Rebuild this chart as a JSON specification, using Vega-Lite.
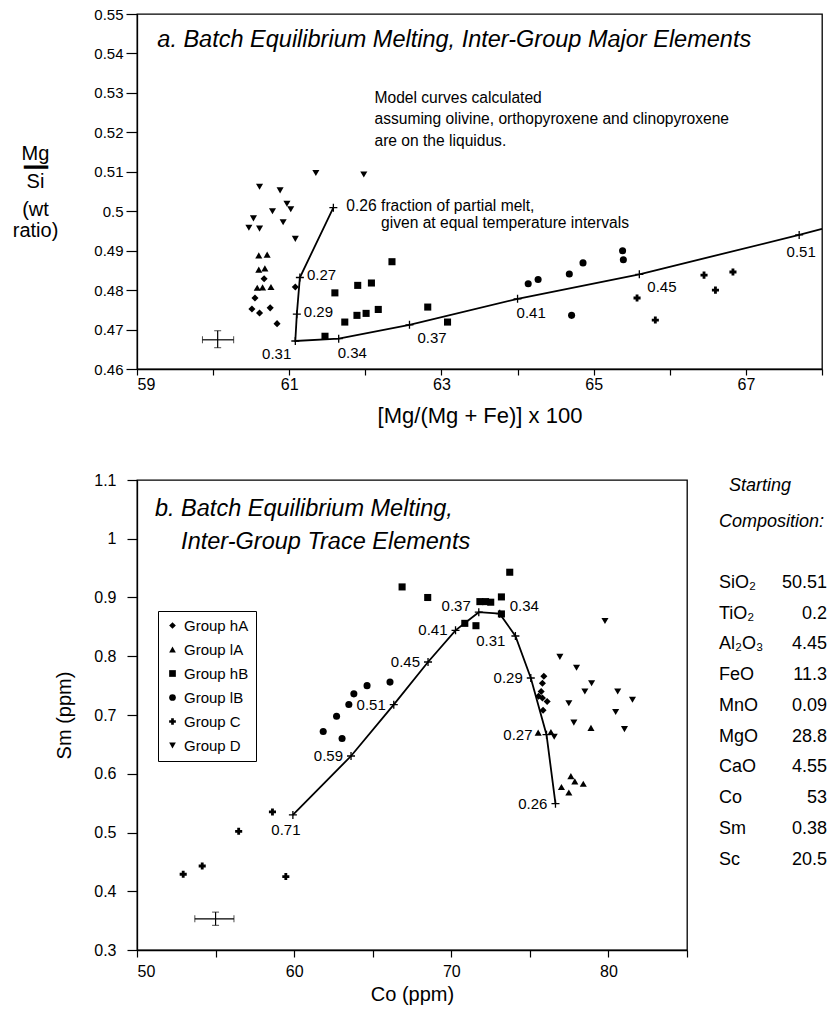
{
  "$schema": "https://vega.github.io/schema/vega-lite/v6.json",
  "background": "white",
  "padding": {"left": 11, "top": 6, "right": 0, "bottom": 0},
  "config": {
    "font": "Liberation Sans",
    "view": {"stroke": "black", "strokeWidth": 1.3},
    "axis": {"domainColor": "black", "domainWidth": 1.3, "tickColor": "black", "tickWidth": 1.2, "labelColor": "black", "titleColor": "black", "labelFont": "Liberation Sans", "titleFont": "Liberation Sans", "titleFontWeight": "normal", "titleFontSize": 20, "labelFontSize": 16, "grid": false},
    "text": {"font": "Liberation Sans", "color": "black"}
  },
  "resolve": {"scale": {"shape": "independent"}, "legend": {"shape": "independent"}},
  "datasets": {
    "tp": [
      {"g": "Group hA", "x": 60.67, "y": 0.4829}, {"g": "Group hA", "x": 61.08, "y": 0.4808}, {"g": "Group hA", "x": 60.55, "y": 0.478}, {"g": "Group hA", "x": 60.51, "y": 0.4752}, {"g": "Group hA", "x": 60.61, "y": 0.4742}, {"g": "Group hA", "x": 60.75, "y": 0.4755}, {"g": "Group hA", "x": 60.84, "y": 0.4715},
      {"g": "Group lA", "x": 60.6, "y": 0.4888}, {"g": "Group lA", "x": 60.71, "y": 0.489}, {"g": "Group lA", "x": 60.6, "y": 0.4852}, {"g": "Group lA", "x": 60.68, "y": 0.4855}, {"g": "Group lA", "x": 60.58, "y": 0.4806}, {"g": "Group lA", "x": 60.65, "y": 0.4807}, {"g": "Group lA", "x": 60.76, "y": 0.4808},
      {"g": "Group hB", "x": 61.6, "y": 0.4793}, {"g": "Group hB", "x": 61.9, "y": 0.4812}, {"g": "Group hB", "x": 62.08, "y": 0.4818}, {"g": "Group hB", "x": 62.35, "y": 0.4872}, {"g": "Group hB", "x": 61.73, "y": 0.4719}, {"g": "Group hB", "x": 61.89, "y": 0.4736}, {"g": "Group hB", "x": 62.01, "y": 0.4741}, {"g": "Group hB", "x": 62.17, "y": 0.4751}, {"g": "Group hB", "x": 62.82, "y": 0.4757}, {"g": "Group hB", "x": 61.47, "y": 0.4683}, {"g": "Group hB", "x": 63.08, "y": 0.4719},
      {"g": "Group lB", "x": 64.14, "y": 0.4816}, {"g": "Group lB", "x": 64.27, "y": 0.4827}, {"g": "Group lB", "x": 64.68, "y": 0.4841}, {"g": "Group lB", "x": 64.86, "y": 0.4869}, {"g": "Group lB", "x": 65.38, "y": 0.49}, {"g": "Group lB", "x": 65.39, "y": 0.4877}, {"g": "Group lB", "x": 64.71, "y": 0.4736},
      {"g": "Group C", "x": 65.57, "y": 0.478}, {"g": "Group C", "x": 65.81, "y": 0.4724}, {"g": "Group C", "x": 66.45, "y": 0.4838}, {"g": "Group C", "x": 66.6, "y": 0.48}, {"g": "Group C", "x": 66.83, "y": 0.4846},
      {"g": "Group D", "x": 61.35, "y": 0.5097}, {"g": "Group D", "x": 61.98, "y": 0.5093}, {"g": "Group D", "x": 60.61, "y": 0.5062}, {"g": "Group D", "x": 60.88, "y": 0.5053}, {"g": "Group D", "x": 60.97, "y": 0.5019}, {"g": "Group D", "x": 61.02, "y": 0.5005}, {"g": "Group D", "x": 60.78, "y": 0.5}, {"g": "Group D", "x": 60.53, "y": 0.4982}, {"g": "Group D", "x": 60.92, "y": 0.4972}, {"g": "Group D", "x": 60.47, "y": 0.4958}, {"g": "Group D", "x": 60.61, "y": 0.4956}, {"g": "Group D", "x": 61.08, "y": 0.493}
    ],
    "tc": [
      {"f": 0.26, "x": 61.58, "y": 0.5009, "lab": "0.26"},
      {"f": 0.27, "x": 61.14, "y": 0.4832, "lab": "0.27"},
      {"f": 0.29, "x": 61.1, "y": 0.4739, "lab": "0.29"},
      {"f": 0.31, "x": 61.08, "y": 0.4671, "lab": "0.31"},
      {"f": 0.34, "x": 61.65, "y": 0.4677, "lab": "0.34"},
      {"f": 0.37, "x": 62.58, "y": 0.4712, "lab": "0.37"},
      {"f": 0.41, "x": 64.0, "y": 0.4778, "lab": "0.41"},
      {"f": 0.45, "x": 65.6, "y": 0.484, "lab": "0.45"},
      {"f": 0.51, "x": 67.7, "y": 0.494, "lab": "0.51"},
      {"f": 0.53, "x": 68.0, "y": 0.4955, "lab": ""}
    ],
    "te": [{"x": 60.06, "y": 0.4674, "xlo": 59.86, "xhi": 60.27, "ylo": 0.4654, "yhi": 0.4697}],
    "bp": [
      {"g": "Group hA", "x": 75.89, "y": 0.766}, {"g": "Group hA", "x": 75.8, "y": 0.754}, {"g": "Group hA", "x": 75.72, "y": 0.74}, {"g": "Group hA", "x": 75.55, "y": 0.732}, {"g": "Group hA", "x": 75.8, "y": 0.729}, {"g": "Group hA", "x": 76.1, "y": 0.723}, {"g": "Group hA", "x": 75.84, "y": 0.708},
      {"g": "Group lA", "x": 75.53, "y": 0.67}, {"g": "Group lA", "x": 76.34, "y": 0.671}, {"g": "Group lA", "x": 77.61, "y": 0.596}, {"g": "Group lA", "x": 77.86, "y": 0.587}, {"g": "Group lA", "x": 78.4, "y": 0.583}, {"g": "Group lA", "x": 77.01, "y": 0.5775}, {"g": "Group lA", "x": 77.48, "y": 0.568}, {"g": "Group lA", "x": 78.89, "y": 0.678},
      {"g": "Group hB", "x": 66.87, "y": 0.918}, {"g": "Group hB", "x": 68.5, "y": 0.9}, {"g": "Group hB", "x": 70.86, "y": 0.856}, {"g": "Group hB", "x": 71.57, "y": 0.852}, {"g": "Group hB", "x": 71.82, "y": 0.893}, {"g": "Group hB", "x": 72.18, "y": 0.893}, {"g": "Group hB", "x": 72.51, "y": 0.892}, {"g": "Group hB", "x": 73.19, "y": 0.901}, {"g": "Group hB", "x": 73.19, "y": 0.872}, {"g": "Group hB", "x": 73.72, "y": 0.943},
      {"g": "Group lB", "x": 66.1, "y": 0.756}, {"g": "Group lB", "x": 64.64, "y": 0.75}, {"g": "Group lB", "x": 63.8, "y": 0.736}, {"g": "Group lB", "x": 63.48, "y": 0.718}, {"g": "Group lB", "x": 62.7, "y": 0.698}, {"g": "Group lB", "x": 61.85, "y": 0.672}, {"g": "Group lB", "x": 63.05, "y": 0.66},
      {"g": "Group C", "x": 52.94, "y": 0.429}, {"g": "Group C", "x": 54.15, "y": 0.443}, {"g": "Group C", "x": 56.47, "y": 0.502}, {"g": "Group C", "x": 58.62, "y": 0.535}, {"g": "Group C", "x": 59.47, "y": 0.425},
      {"g": "Group D", "x": 79.78, "y": 0.86}, {"g": "Group D", "x": 76.91, "y": 0.799}, {"g": "Group D", "x": 77.97, "y": 0.7805}, {"g": "Group D", "x": 78.93, "y": 0.754}, {"g": "Group D", "x": 78.5, "y": 0.74}, {"g": "Group D", "x": 80.59, "y": 0.74}, {"g": "Group D", "x": 81.53, "y": 0.726}, {"g": "Group D", "x": 77.48, "y": 0.72}, {"g": "Group D", "x": 80.46, "y": 0.705}, {"g": "Group D", "x": 77.8, "y": 0.687}, {"g": "Group D", "x": 81.02, "y": 0.676}, {"g": "Group D", "x": 76.55, "y": 0.663}
    ],
    "bc": [
      {"f": 0.26, "x": 76.63, "y": 0.549, "lab": "0.26"},
      {"f": 0.27, "x": 76.06, "y": 0.6665, "lab": "0.27"},
      {"f": 0.29, "x": 75.06, "y": 0.763, "lab": "0.29"},
      {"f": 0.31, "x": 74.08, "y": 0.8345, "lab": "0.31"},
      {"f": 0.34, "x": 73.08, "y": 0.8725, "lab": "0.34"},
      {"f": 0.37, "x": 71.75, "y": 0.875, "lab": "0.37"},
      {"f": 0.41, "x": 70.27, "y": 0.8441, "lab": "0.41"},
      {"f": 0.45, "x": 68.52, "y": 0.7902, "lab": "0.45"},
      {"f": 0.51, "x": 66.34, "y": 0.7176, "lab": "0.51"},
      {"f": 0.59, "x": 63.62, "y": 0.6302, "lab": "0.59"},
      {"f": 0.71, "x": 59.92, "y": 0.53, "lab": "0.71"}
    ],
    "be": [{"x": 55.0, "y": 0.353, "xlo": 53.68, "xhi": 56.17, "ylo": 0.342, "yhi": 0.3645}],
    "comp": [
      {"k": "SiO₂", "v": "50.51", "i": 0}, {"k": "TiO₂", "v": "0.2", "i": 1}, {"k": "Al₂O₃", "v": "4.45", "i": 2}, {"k": "FeO", "v": "11.3", "i": 3}, {"k": "MnO", "v": "0.09", "i": 4}, {"k": "MgO", "v": "28.8", "i": 5}, {"k": "CaO", "v": "4.55", "i": 6}, {"k": "Co", "v": "53", "i": 7}, {"k": "Sm", "v": "0.38", "i": 8}, {"k": "Sc", "v": "20.5", "i": 9}
    ],
    "hdr": [{"t": "\u200b\u00a0\u00a0Starting", "i": -3.147}, {"t": "Composition:", "i": -1.99}]
  },
  "bounds": "flush",
  "spacing": 111,
  "vconcat": [
    {
      "width": 685,
      "height": 355,
      "layer": [
        {
          "encoding": {
            "x": {"field": "x", "type": "quantitative", "scale": {"domain": [59, 68], "nice": false, "zero": false},
              "axis": {"title": "[Mg/(Mg + Fe)] x 100", "titleFontSize": 22, "values": [59, 60, 61, 62, 63, 64, 65, 66, 67, 68], "labelExpr": "datum.value % 2 == 1 ? datum.label : ''", "tickSize": 6, "labelPadding": 1, "titlePadding": 13, "labelFontSize": 16}},
            "y": {"field": "y", "type": "quantitative", "scale": {"domain": [0.46, 0.55], "nice": false, "zero": false},
              "axis": {"title": ["Mg", "\u200b", "━━", "\u200b", "Si", "\u200b", "\u200b", "\u200b", "(wt", "\u200b", "\u200b", "ratio)"], "titleAngle": 0, "titleAlign": "center", "titleBaseline": "top", "titleX": -102, "titleY": 129, "titleLineHeight": 7, "titleFontSize": 20, "values": [0.46, 0.47, 0.48, 0.49, 0.5, 0.51, 0.52, 0.53, 0.54, 0.55], "format": "~g", "tickSize": 11, "labelPadding": 3, "labelFontSize": 15}}
          },
          "layer": [
            {"data": {"name": "tp"}, "mark": {"type": "point", "filled": true, "color": "black", "size": 50, "opacity": 1},
              "encoding": {"shape": {"field": "g", "type": "nominal", "scale": {"domain": ["Group hA", "Group lA", "Group hB", "Group lB", "Group C", "Group D"], "range": ["diamond", "triangle-up", "square", "circle", "cross", "triangle-down"]}, "legend": null}}},
            {"data": {"name": "tc"}, "mark": {"type": "line", "color": "black", "strokeWidth": 1.8}, "encoding": {"order": {"field": "f", "type": "quantitative"}}},
            {"data": {"name": "tc"}, "transform": [{"filter": "datum.lab != ''"}], "mark": {"type": "point", "shape": "M-1,0L1,0M0,-1L0,1", "filled": false, "color": "black", "strokeWidth": 1.3, "size": 64, "opacity": 1}},
            {"data": {"name": "tc"}, "transform": [{"filter": {"field": "f", "oneOf": [0.27, 0.29]}}], "mark": {"type": "text", "align": "left", "baseline": "middle", "dx": 7, "dy": -2, "fontSize": 15}, "encoding": {"text": {"field": "lab"}}},
            {"data": {"name": "tc"}, "transform": [{"filter": {"field": "f", "oneOf": [0.31]}}], "mark": {"type": "text", "align": "right", "baseline": "top", "dx": -4, "dy": 6, "fontSize": 15}, "encoding": {"text": {"field": "lab"}}},
            {"data": {"name": "tc"}, "transform": [{"filter": {"field": "f", "oneOf": [0.34, 0.41]}}], "mark": {"type": "text", "align": "left", "baseline": "top", "dx": -1, "dy": 7, "fontSize": 15}, "encoding": {"text": {"field": "lab"}}},
            {"data": {"name": "tc"}, "transform": [{"filter": {"field": "f", "oneOf": [0.37, 0.45]}}], "mark": {"type": "text", "align": "left", "baseline": "top", "dx": 8, "dy": 6, "fontSize": 15}, "encoding": {"text": {"field": "lab"}}},
            {"data": {"name": "tc"}, "transform": [{"filter": {"field": "f", "oneOf": [0.51]}}], "mark": {"type": "text", "align": "center", "baseline": "top", "dx": 2, "dy": 10, "fontSize": 15}, "encoding": {"text": {"field": "lab"}}},
            {"data": {"name": "tc"}, "transform": [{"filter": {"field": "f", "oneOf": [0.26]}}], "mark": {"type": "text", "align": "left", "baseline": "top", "dx": 13, "dy": -9, "fontSize": 15.6, "lineHeight": 17},
              "encoding": {"text": {"value": ["0.26 fraction of partial melt,", "\u200b\u00a0\u00a0\u00a0\u00a0\u00a0\u00a0\u00a0\u00a0given at equal temperature intervals"]}}},
            {"data": {"name": "te"}, "mark": {"type": "errorbar", "color": "black", "ticks": {"size": 7}, "rule": {"strokeWidth": 1.2}},
              "encoding": {"x": {"field": "xlo", "type": "quantitative"}, "x2": {"field": "xhi"}, "y": {"field": "y", "type": "quantitative"}}},
            {"data": {"name": "te"}, "mark": {"type": "errorbar", "color": "black", "ticks": {"size": 7}, "rule": {"strokeWidth": 1.2}},
              "encoding": {"y": {"field": "ylo", "type": "quantitative"}, "y2": {"field": "yhi"}, "x": {"field": "x", "type": "quantitative"}}}
          ]
        },
        {"data": {"values": [{"note": "model"}]}, "mark": {"type": "text", "align": "left", "baseline": "top", "fontSize": 15.6, "lineHeight": 21.5},
          "encoding": {
            "x": {"datum": 62.12, "type": "quantitative", "scale": {"domain": [59, 68], "nice": false, "zero": false},
              "axis": {"title": "[Mg/(Mg + Fe)] x 100", "titleFontSize": 22, "values": [59, 60, 61, 62, 63, 64, 65, 66, 67, 68], "labelExpr": "datum.value % 2 == 1 ? datum.label : ''", "tickSize": 6, "labelPadding": 1, "titlePadding": 13, "labelFontSize": 16}},
            "y": {"datum": 0.5306, "type": "quantitative", "scale": {"domain": [0.46, 0.55], "nice": false, "zero": false},
              "axis": {"title": ["Mg", "\u200b", "━━", "\u200b", "Si", "\u200b", "\u200b", "\u200b", "(wt", "\u200b", "\u200b", "ratio)"], "titleAngle": 0, "titleAlign": "center", "titleBaseline": "top", "titleX": -102, "titleY": 129, "titleLineHeight": 7, "titleFontSize": 20, "values": [0.46, 0.47, 0.48, 0.49, 0.5, 0.51, 0.52, 0.53, 0.54, 0.55], "format": "~g", "tickSize": 11, "labelPadding": 3, "labelFontSize": 15}},
            "text": {"value": ["Model curves calculated", "assuming olivine, orthopyroxene and clinopyroxene", "are on the liquidus."]}}},
        {"data": {"values": [{"note": "title"}]}, "mark": {"type": "text", "align": "left", "baseline": "middle", "fontSize": 23.5, "fontStyle": "italic"},
          "encoding": {
            "x": {"datum": 59.267, "type": "quantitative", "scale": {"domain": [59, 68], "nice": false, "zero": false},
              "axis": {"title": "[Mg/(Mg + Fe)] x 100", "titleFontSize": 22, "values": [59, 60, 61, 62, 63, 64, 65, 66, 67, 68], "labelExpr": "datum.value % 2 == 1 ? datum.label : ''", "tickSize": 6, "labelPadding": 1, "titlePadding": 13, "labelFontSize": 16}},
            "y": {"datum": 0.5433, "type": "quantitative", "scale": {"domain": [0.46, 0.55], "nice": false, "zero": false},
              "axis": {"title": ["Mg", "\u200b", "━━", "\u200b", "Si", "\u200b", "\u200b", "\u200b", "(wt", "\u200b", "\u200b", "ratio)"], "titleAngle": 0, "titleAlign": "center", "titleBaseline": "top", "titleX": -102, "titleY": 129, "titleLineHeight": 7, "titleFontSize": 20, "values": [0.46, 0.47, 0.48, 0.49, 0.5, 0.51, 0.52, 0.53, 0.54, 0.55], "format": "~g", "tickSize": 11, "labelPadding": 3, "labelFontSize": 15}},
            "text": {"value": "a. Batch Equilibrium Melting, Inter-Group Major Elements"}}}
      ]
    },
    {
      "bounds": "flush",
      "spacing": 32,
      "hconcat": [
        {
          "width": 550,
          "height": 470,
          "layer": [
            {
              "encoding": {
                "x": {"field": "x", "type": "quantitative", "scale": {"domain": [50, 85], "nice": false, "zero": false},
                  "axis": {"title": "Co (ppm)", "values": [50, 55, 60, 65, 70, 75, 80, 85], "labelExpr": "datum.value % 10 == 0 ? datum.label : ''", "tickSize": 7, "labelPadding": 6, "titlePadding": 5}},
                "y": {"field": "y", "type": "quantitative", "scale": {"domain": [0.3, 1.1], "nice": false, "zero": false},
                  "axis": {"title": "Sm (ppm)", "values": [0.3, 0.4, 0.5, 0.6, 0.7, 0.8, 0.9, 1, 1.1], "format": "~g", "tickSize": 10, "labelPadding": 11, "titleX": -73, "titleY": 235, "titleBaseline": "middle", "titleAlign": "center"}}
              },
              "layer": [
                {"data": {"name": "bp"}, "mark": {"type": "point", "filled": true, "color": "black", "size": 50, "opacity": 1},
                  "encoding": {"shape": {"field": "g", "type": "nominal", "scale": {"domain": ["Group hA", "Group lA", "Group hB", "Group lB", "Group C", "Group D"], "range": ["diamond", "triangle-up", "square", "circle", "cross", "triangle-down"]},
                    "legend": {"title": null, "orient": "none", "legendX": 21, "legendY": 131, "strokeColor": "black", "padding": 7, "labelFontSize": 15, "labelColor": "black", "labelFont": "Liberation Sans", "rowPadding": 8, "symbolSize": 45, "symbolFillColor": "black", "symbolStrokeColor": "black", "labelOffset": 4}}}},
                {"data": {"name": "bc"}, "mark": {"type": "line", "color": "black", "strokeWidth": 1.8}, "encoding": {"order": {"field": "f", "type": "quantitative"}}},
                {"data": {"name": "bc"}, "mark": {"type": "point", "shape": "M-1,0L1,0M0,-1L0,1", "filled": false, "color": "black", "strokeWidth": 1.3, "size": 64, "opacity": 1}},
                {"data": {"name": "bc"}, "transform": [{"filter": {"field": "f", "oneOf": [0.59, 0.51, 0.45, 0.41, 0.29, 0.26]}}], "mark": {"type": "text", "align": "right", "baseline": "middle", "dx": -8, "fontSize": 15}, "encoding": {"text": {"field": "lab"}}},
                {"data": {"name": "bc"}, "transform": [{"filter": {"field": "f", "oneOf": [0.27]}}], "mark": {"type": "text", "align": "right", "baseline": "middle", "dx": -14, "fontSize": 15}, "encoding": {"text": {"field": "lab"}}},
                {"data": {"name": "bc"}, "transform": [{"filter": {"field": "f", "oneOf": [0.37]}}], "mark": {"type": "text", "align": "right", "baseline": "middle", "dx": -8, "dy": -6, "fontSize": 15}, "encoding": {"text": {"field": "lab"}}},
                {"data": {"name": "bc"}, "transform": [{"filter": {"field": "f", "oneOf": [0.31]}}], "mark": {"type": "text", "align": "right", "baseline": "middle", "dx": -10, "dy": 5, "fontSize": 15}, "encoding": {"text": {"field": "lab"}}},
                {"data": {"name": "bc"}, "transform": [{"filter": {"field": "f", "oneOf": [0.34]}}], "mark": {"type": "text", "align": "left", "baseline": "middle", "dx": 10, "dy": -8, "fontSize": 15}, "encoding": {"text": {"field": "lab"}}},
                {"data": {"name": "bc"}, "transform": [{"filter": {"field": "f", "oneOf": [0.71]}}], "mark": {"type": "text", "align": "center", "baseline": "top", "dx": -7, "dy": 8, "fontSize": 15}, "encoding": {"text": {"field": "lab"}}},
                {"data": {"name": "be"}, "mark": {"type": "errorbar", "color": "black", "ticks": {"size": 7}, "rule": {"strokeWidth": 1.2}},
                  "encoding": {"x": {"field": "xlo", "type": "quantitative"}, "x2": {"field": "xhi"}, "y": {"field": "y", "type": "quantitative"}}},
                {"data": {"name": "be"}, "mark": {"type": "errorbar", "color": "black", "ticks": {"size": 7}, "rule": {"strokeWidth": 1.2}},
                  "encoding": {"y": {"field": "ylo", "type": "quantitative"}, "y2": {"field": "yhi"}, "x": {"field": "x", "type": "quantitative"}}}
              ]
            },
            {"data": {"values": [{"note": "title"}]}, "mark": {"type": "text", "align": "left", "baseline": "top", "fontSize": 23.5, "fontStyle": "italic", "lineHeight": 33},
              "encoding": {
                "x": {"datum": 51.145, "type": "quantitative", "scale": {"domain": [50, 85], "nice": false, "zero": false},
                  "axis": {"title": "Co (ppm)", "values": [50, 55, 60, 65, 70, 75, 80, 85], "labelExpr": "datum.value % 10 == 0 ? datum.label : ''", "tickSize": 7, "labelPadding": 6, "titlePadding": 5}},
                "y": {"datum": 1.0714, "type": "quantitative", "scale": {"domain": [0.3, 1.1], "nice": false, "zero": false},
                  "axis": {"title": "Sm (ppm)", "values": [0.3, 0.4, 0.5, 0.6, 0.7, 0.8, 0.9, 1, 1.1], "format": "~g", "tickSize": 10, "labelPadding": 11, "titleX": -73, "titleY": 235, "titleBaseline": "middle", "titleAlign": "center"}},
                "text": {"value": ["b. Batch Equilibrium Melting,", "\u200b\u00a0\u00a0\u00a0\u00a0Inter-Group Trace Elements"]}}}
          ]
        },
        {
          "width": 108,
          "height": 470,
          "view": {"stroke": null},
          "encoding": {
            "y": {"field": "i", "type": "quantitative", "scale": {"domain": [-3.352, 11.94], "reverse": true, "nice": false, "zero": false}, "axis": null}
          },
          "layer": [
            {"data": {"name": "comp"}, "mark": {"type": "text", "align": "left", "baseline": "middle", "fontSize": 18},
              "encoding": {"x": {"datum": 0, "type": "quantitative", "scale": {"domain": [0, 1], "nice": false, "zero": false}, "axis": null}, "text": {"field": "k"}}},
            {"data": {"name": "comp"}, "mark": {"type": "text", "align": "right", "baseline": "middle", "fontSize": 18},
              "encoding": {"x": {"datum": 1, "type": "quantitative", "scale": {"domain": [0, 1], "nice": false, "zero": false}, "axis": null}, "text": {"field": "v"}}},
            {"data": {"name": "hdr"}, "mark": {"type": "text", "align": "left", "baseline": "middle", "fontSize": 18, "fontStyle": "italic"},
              "encoding": {"x": {"datum": 0, "type": "quantitative", "scale": {"domain": [0, 1], "nice": false, "zero": false}, "axis": null}, "text": {"field": "t"}}}
          ]
        }
      ]
    }
  ]
}
